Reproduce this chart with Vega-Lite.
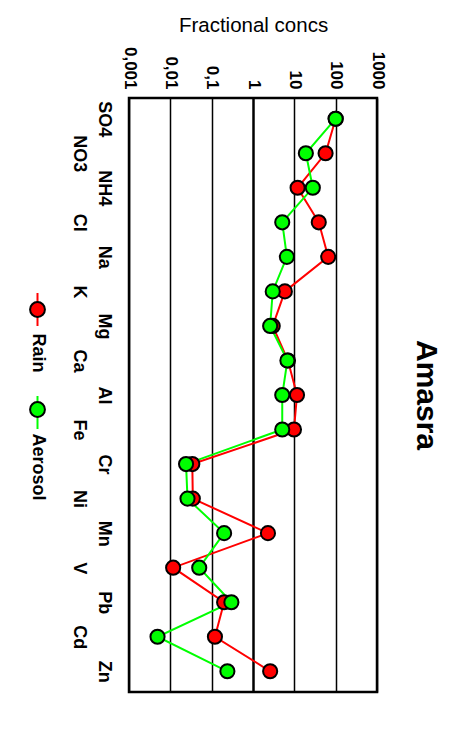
{
  "$schema": "https://vega.github.io/schema/vega-lite/v6.json",
  "width": 248,
  "height": 594,
  "autosize": {"type": "none"},
  "padding": {"left": 129, "top": 98, "right": 90, "bottom": 37},
  "background": "white",
  "title": {
    "text": "Amasra",
    "orient": "right",
    "anchor": "middle",
    "frame": "group",
    "angle": 90,
    "baseline": "alphabetic",
    "offset": 1,
    "fontSize": 30,
    "fontWeight": "bold",
    "color": "black"
  },
  "data": {
    "values": [
      {"ion": "SO4", "series": "Rain", "conc": 100},
      {"ion": "NO3", "series": "Rain", "conc": 57},
      {"ion": "NH4", "series": "Rain", "conc": 12},
      {"ion": "Cl", "series": "Rain", "conc": 39},
      {"ion": "Na", "series": "Rain", "conc": 66},
      {"ion": "K", "series": "Rain", "conc": 5.9},
      {"ion": "Mg", "series": "Rain", "conc": 3.0},
      {"ion": "Ca", "series": "Rain", "conc": 7.0},
      {"ion": "Al", "series": "Rain", "conc": 11.6},
      {"ion": "Fe", "series": "Rain", "conc": 9.8},
      {"ion": "Cr", "series": "Rain", "conc": 0.034},
      {"ion": "Ni", "series": "Rain", "conc": 0.035},
      {"ion": "Mn", "series": "Rain", "conc": 2.3},
      {"ion": "V", "series": "Rain", "conc": 0.0117},
      {"ion": "Pb", "series": "Rain", "conc": 0.2},
      {"ion": "Cd", "series": "Rain", "conc": 0.12},
      {"ion": "Zn", "series": "Rain", "conc": 2.6},
      {"ion": "SO4", "series": "Aerosol", "conc": 100},
      {"ion": "NO3", "series": "Aerosol", "conc": 19},
      {"ion": "NH4", "series": "Aerosol", "conc": 28},
      {"ion": "Cl", "series": "Aerosol", "conc": 5.1},
      {"ion": "Na", "series": "Aerosol", "conc": 6.6},
      {"ion": "K", "series": "Aerosol", "conc": 3.0},
      {"ion": "Mg", "series": "Aerosol", "conc": 2.6},
      {"ion": "Ca", "series": "Aerosol", "conc": 6.8},
      {"ion": "Al", "series": "Aerosol", "conc": 5.1},
      {"ion": "Fe", "series": "Aerosol", "conc": 5.1},
      {"ion": "Cr", "series": "Aerosol", "conc": 0.024},
      {"ion": "Ni", "series": "Aerosol", "conc": 0.026},
      {"ion": "Mn", "series": "Aerosol", "conc": 0.2},
      {"ion": "V", "series": "Aerosol", "conc": 0.05},
      {"ion": "Pb", "series": "Aerosol", "conc": 0.3},
      {"ion": "Cd", "series": "Aerosol", "conc": 0.0049},
      {"ion": "Zn", "series": "Aerosol", "conc": 0.24}
    ]
  },
  "encoding": {
    "y": {
      "field": "ion",
      "type": "nominal",
      "sort": null,
      "scale": {"type": "point", "padding": 0.6},
      "axis": {
        "title": null,
        "orient": "left",
        "domain": false,
        "ticks": false,
        "tickSize": 0,
        "grid": false,
        "labelAngle": 90,
        "labelAlign": "center",
        "labelBaseline": "top",
        "labelPadding": 17,
        "labelLineHeight": 25,
        "labelFontSize": 18,
        "labelFontWeight": "bold",
        "labelColor": "black",
        "labelOverlap": false,
        "labelExpr": "indexof(['NO3','Cl','K','Ca','Fe','Ni','V','Cd'], datum.value) >= 0 ? ['', datum.label] : datum.label"
      }
    },
    "x": {
      "field": "conc",
      "type": "quantitative",
      "scale": {"type": "log", "domain": [0.001, 1000]},
      "axis": {
        "orient": "top",
        "title": "Fractional concs",
        "titleFontSize": 20.5,
        "titleFontWeight": "normal",
        "titleColor": "black",
        "titlePadding": 15,
        "titleBaseline": "alphabetic",
        "values": [0.001, 0.01, 0.1, 1, 10, 100, 1000],
        "domain": false,
        "ticks": false,
        "tickSize": 0,
        "grid": true,
        "gridColor": "black",
        "gridOpacity": 1,
        "gridWidth": {"condition": {"test": "datum.value === 1", "value": 2.5}, "value": 1.5},
        "labelAngle": 90,
        "labelAlign": "right",
        "labelBaseline": "middle",
        "labelPadding": 9,
        "labelFontSize": 17,
        "labelFontWeight": "bold",
        "labelColor": "black",
        "labelOverlap": false,
        "labelFlush": false,
        "labelExpr": "replace(datum.value < 1 ? toString(datum.value) : format(datum.value, 'd'), '.', ',')"
      }
    }
  },
  "layer": [
    {
      "mark": {"type": "line", "strokeWidth": 2},
      "encoding": {
        "order": {"value": null},
        "stroke": {
          "field": "series",
          "type": "nominal",
          "sort": ["Rain", "Aerosol"],
          "scale": {"range": ["#ff0000", "#00ff00"]},
          "legend": {
            "orient": "none",
            "legendX": -109,
            "legendY": 194,
            "title": null,
            "direction": "vertical",
            "padding": 0,
            "zindex": 0,
            "symbolType": "M0,-1L0,1",
            "symbolSize": 1089,
            "symbolStrokeWidth": 2,
            "labelOpacity": 0,
            "labelFontSize": 18,
            "labelFontWeight": "bold",
            "labelOffset": -17.5,
            "labelAlign": "left",
            "labelBaseline": "middle",
            "rowPadding": 19,
            "encode": {"labels": {"update": {"angle": {"value": 90}, "dx": {"value": 24}}}}
          }
        }
      }
    },
    {
      "mark": {"type": "point", "filled": true, "opacity": 1, "size": 200, "stroke": "black", "strokeWidth": 2},
      "encoding": {
        "fill": {
          "field": "series",
          "type": "nominal",
          "scale": {"domain": ["Rain", "Aerosol"], "range": ["#ff0000", "#00ff00"]},
          "legend": {
            "orient": "none",
            "legendX": -109,
            "legendY": 194,
            "title": null,
            "direction": "vertical",
            "padding": 0,
            "zindex": 1,
            "symbolType": "M-0.45,0A0.45,0.45,0,1,1,0.45,0A0.45,0.45,0,1,1,-0.45,0Z",
            "symbolSize": 1089,
            "symbolStrokeColor": "black",
            "symbolStrokeWidth": 2,
            "symbolOpacity": 1,
            "labelFontSize": 18,
            "labelFontWeight": "bold",
            "labelColor": "black",
            "labelOffset": -17.5,
            "labelAlign": "left",
            "labelBaseline": "middle",
            "rowPadding": 19,
            "encode": {"labels": {"update": {"angle": {"value": 90}, "dx": {"value": 24}}}}
          }
        }
      }
    }
  ],
  "config": {
    "font": "Liberation Sans",
    "view": {"stroke": "black", "strokeWidth": 2.5}
  }
}
